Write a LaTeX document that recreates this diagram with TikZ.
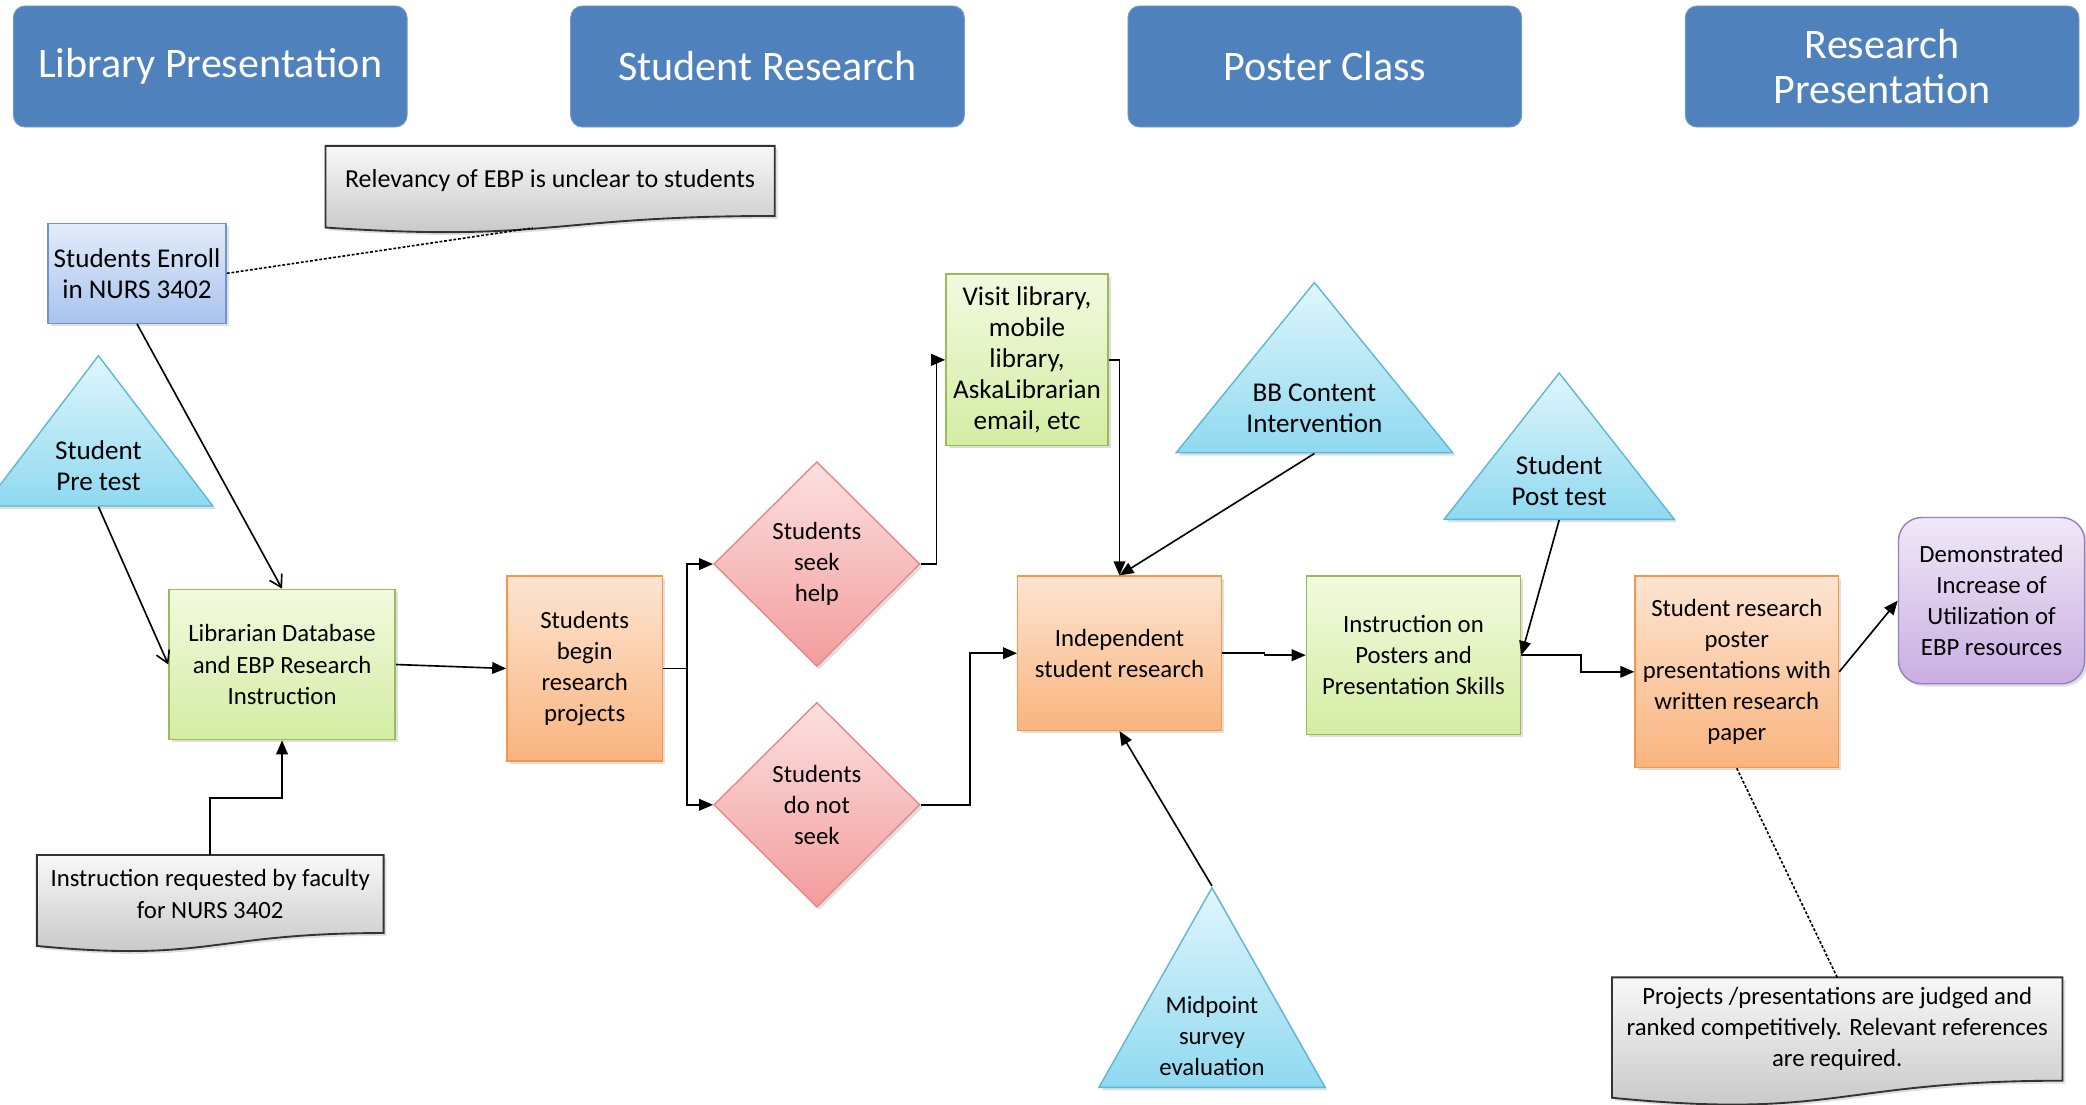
\documentclass[tikz,border=0pt]{standalone}
\usepackage{fontspec}
\setmainfont{Carlito}
\usetikzlibrary{shapes.geometric, arrows.meta, positioning, calc, backgrounds, shadows}

\definecolor{hdrblue}{HTML}{4F81BD}
\definecolor{bluetop}{HTML}{E3ECFA}
\definecolor{bluebot}{HTML}{A9C3EE}
\definecolor{blueline}{HTML}{6F94CF}
\definecolor{grtop}{HTML}{F2FADF}
\definecolor{grbot}{HTML}{D3EDA3}
\definecolor{grline}{HTML}{9BBB59}
\definecolor{ortop}{HTML}{FDE5D2}
\definecolor{orbot}{HTML}{F9B47E}
\definecolor{orline}{HTML}{F79646}
\definecolor{redtop}{HTML}{FBE0E0}
\definecolor{redbot}{HTML}{F49C9C}
\definecolor{redline}{HTML}{E48888}
\definecolor{cytop}{HTML}{E0F6FC}
\definecolor{cybot}{HTML}{8FD9F0}
\definecolor{cyline}{HTML}{5DB7D6}
\definecolor{putop}{HTML}{F0E8F7}
\definecolor{pubot}{HTML}{C9AEE2}
\definecolor{puline}{HTML}{9A7CC0}
\definecolor{notetop}{HTML}{F8F8F8}
\definecolor{notebot}{HTML}{C4C4C4}

\tikzstyle{softshadow} = [drop shadow={shadow xshift=1.2pt, shadow yshift=-1.2pt, opacity=0.25}]
\tikzstyle{header} = [rectangle, rounded corners=5pt, fill=hdrblue, draw=hdrblue!80!white, text=white, minimum width=5.92cm, minimum height=1.82cm, align=center, font=\fontsize{18}{19.5}\selectfont]
\tikzstyle{box} = [rectangle, align=center, line width=0.6pt, inner sep=2pt, font=\fontsize{10.6}{13.3}\selectfont, softshadow]
\tikzstyle{wide} = [font=\fontsize{11.6}{13.3}\selectfont]
\tikzstyle{bluebox} = [box, draw=blueline, top color=bluetop, bottom color=bluebot]
\tikzstyle{greenbox} = [box, draw=grline, top color=grtop, bottom color=grbot]
\tikzstyle{orangebox} = [box, draw=orline, top color=ortop, bottom color=orbot]
\tikzstyle{purplebox} = [box, rounded corners=10pt, draw=puline, top color=putop, bottom color=pubot]
\tikzstyle{decision} = [diamond, aspect=1, minimum width=3.1cm, minimum height=3.08cm, inner sep=0pt, align=center, line width=0.6pt, draw=redline, top color=redtop, bottom color=redbot, font=\fontsize{10.6}{13.3}\selectfont, softshadow]
\tikzstyle{testtri} = [isosceles triangle, isosceles triangle stretches, shape border rotate=90, inner sep=0pt, anchor=apex, line width=0.6pt, draw=cyline, top color=cytop, bottom color=cybot, softshadow]
\tikzstyle{tritext} = [align=center, inner sep=0pt, font=\fontsize{10.6}{13.3}\selectfont]
\tikzstyle{note} = [rectangle, align=center, inner sep=2pt, font=\fontsize{10.6}{13.3}\selectfont]
\tikzstyle{notepath} = [draw=black!80, line width=0.8pt, top color=notetop, bottom color=notebot, softshadow]
\tikzstyle{arrow} = [line width=0.7pt, -{Triangle[length=6pt,width=5pt]}]
\tikzstyle{openarrow} = [line width=0.7pt, -{Straight Barb[length=5pt,width=6pt]}]
\tikzstyle{dotline} = [line width=0.7pt, dash pattern=on 1.2pt off 0.8pt]

% wavy bottom of a note, drawn round the node
\newcommand{\docshape}[1]{%
  \path[notepath] (#1.north west) -- (#1.north east) -- (#1.south east)
    .. controls (#1.south) and ($(#1.south)!-0.38!(#1.north)$)
    .. ($(#1.south west)!-0.165!(#1.north west)$) -- cycle;}

\begin{document}
\begin{tikzpicture}[x=0.02cm, y=-0.02cm, node distance=8.38cm, on grid]
\useasboundingbox (0,0) rectangle (1568,830);
% phases
\node[header] (h_1) at (158,50) {Library Presentation};
\node[header] (h_2) [right of=h_1] {Student Research};
\node[header] (h_3) [right of=h_2] {Poster Class};
\node[header] (h_4) [right of=h_3] {Research\\Presentation};

% notes
\node[note, font=\fontsize{11.1}{13.3}\selectfont, minimum width=6.74cm, minimum height=1.04cm] (rel) at (413.5,136) {Relevancy of EBP is unclear to students};
\node[note, minimum width=5.2cm, minimum height=1.16cm] (fac) at (158,672) {Instruction requested by faculty\\for NURS 3402};
\node[note, minimum width=6.76cm, minimum height=1.54cm] (proj) at (1381,773.5) {Projects /presentations are judged and\\ranked competitively. Relevant references\\are required.};
\begin{scope}[on background layer]
\docshape{rel}
\docshape{fac}
\docshape{proj}
\end{scope}

% flow
\node[bluebox, wide, minimum width=2.68cm, minimum height=1.5cm] (enroll) at (103,205.5) {Students Enroll\\in NURS 3402};
\node[greenbox, minimum width=3.4cm, minimum height=2.26cm] (lib) at (212,499.5) {Librarian Database\\and EBP Research\\Instruction};
\node[orangebox, minimum width=2.34cm, minimum height=2.78cm] (begin) at (439.5,502.5) {Students\\begin\\research\\projects};
\node[decision] (seek) at (614,424) {Students\\seek\\help};
\node[decision, node distance=3.62cm] (noseek) [below of=seek] {Students\\do not\\seek};
\node[greenbox, wide, minimum width=2.44cm, minimum height=2.58cm] (visit) at (772,270.5) {Visit library,\\mobile\\library,\\AskaLibrarian\\email, etc};
\node[orangebox, minimum width=3.06cm, minimum height=2.32cm] (indep) at (841.5,491) {Independent\\student research};
\node[greenbox, minimum width=3.22cm, minimum height=2.38cm] (posters) at (1062.5,492.5) {Instruction on\\Posters and\\Presentation Skills};
\node[orangebox, minimum width=3.06cm, minimum height=2.88cm] (poster) at (1305.5,505) {Student research\\poster\\presentations with\\written research\\paper};
\node[purplebox, minimum width=2.8cm, minimum height=2.5cm] (demo) at (1497,451.5) {Demonstrated\\Increase of\\Utilization of\\EBP resources};

% tests
\node[testtri, minimum width=3.44cm, minimum height=2.26cm] (pre) at (74,266) {};
\node[tritext, wide, below=1.68cm of pre.apex, anchor=center] (pre_t) {Student\\Pre test};
\node[testtri, minimum width=4.16cm, minimum height=2.56cm] (bb) at (988,211) {};
\node[tritext, wide, below=1.92cm of bb.apex, anchor=center] (bb_t) {BB Content\\Intervention};
\node[testtri, minimum width=3.46cm, minimum height=2.2cm] (post) at (1172,279) {};
\node[tritext, wide, below=1.64cm of post.apex, anchor=center] (post_t) {Student\\Post test};
\node[testtri, minimum width=3.4cm, minimum height=3.0cm] (mid) at (911,666) {};
\node[tritext, below=2.26cm of mid.apex, anchor=center] (mid_t) {Midpoint\\survey\\evaluation};

\coordinate (relb) at ($(rel.south)+(-13,9)$);
\path[dotline]
  (enroll.east) edge (relb)
  (poster.south) edge (proj.north);
\path[openarrow]
  (enroll.south) edge (lib.north)
  (pre.south) edge (lib.west);
\path[arrow]
  (lib.east) edge (begin.west)
  (bb.south) edge (indep.north)
  (mid.apex) edge (indep.south)
  (post.south) edge (posters.east)
  (poster.east) edge (demo.west);
\draw[arrow] (fac.north) -- ++(0,-43) -| (lib.south);
\draw[line width=0.7pt] (begin.east) -- ++(18,0) coordinate (split);
\draw[arrow] (split) |- (seek.west);
\draw[arrow] (split) |- (noseek.west);
\draw[arrow] (seek.east) -- ++(12,0) |- (visit.west);
\draw[arrow] (visit.east) -| (indep.north);
\draw[arrow] (noseek.east) -- ++(37,0) |- (indep.west);
\draw[arrow] (indep.east) -- ++(32,0) |- (posters.west);
\draw[arrow] (posters.east) -- ++(45,0) |- (poster.west);
\end{tikzpicture}
\end{document}
